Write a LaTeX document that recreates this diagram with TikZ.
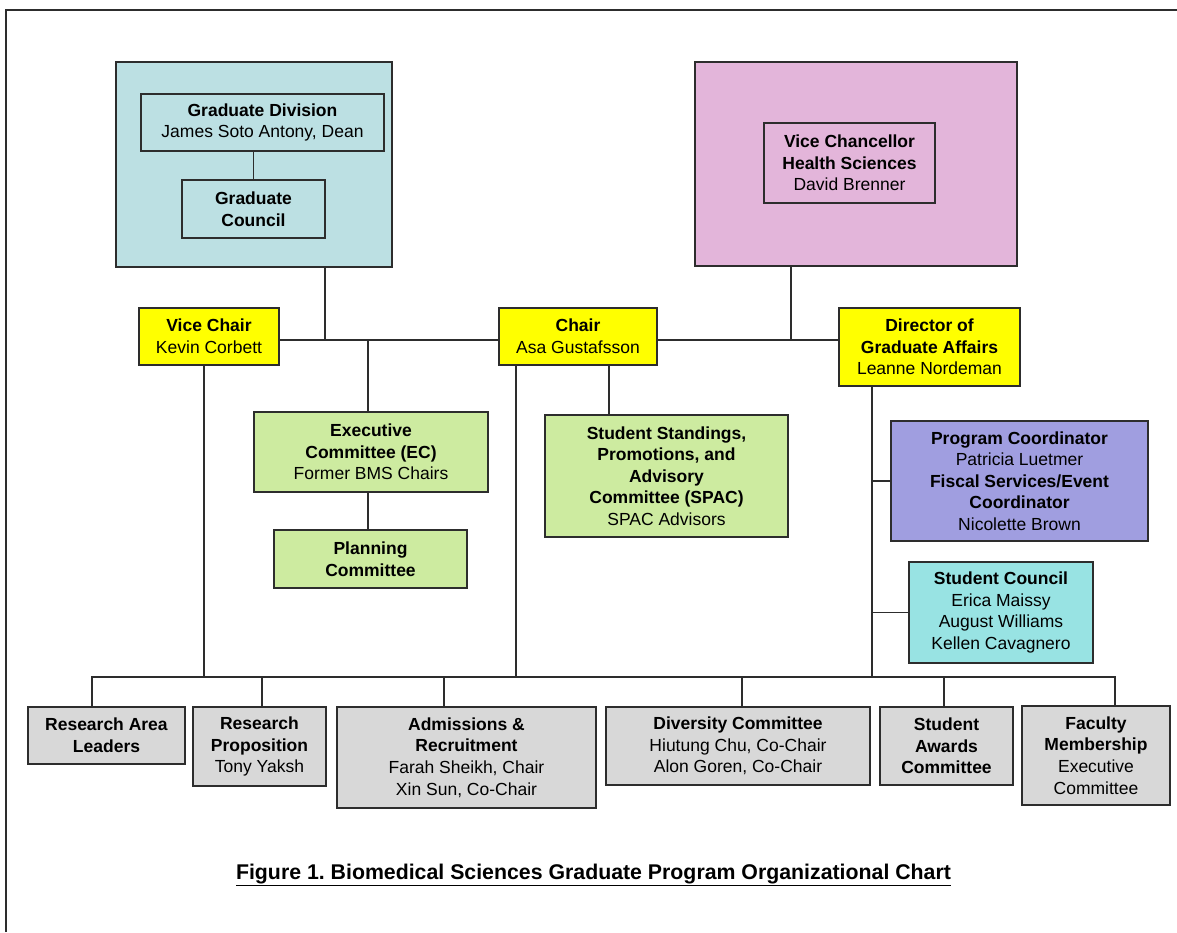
\documentclass[tikz,border=0pt]{standalone}
\usepackage{fontspec}
\setmainfont{Liberation Sans}
\frenchspacing
\definecolor{tealbg}{RGB}{188,224,227}
\definecolor{pinkbg}{RGB}{227,181,218}
\definecolor{yel}{RGB}{255,255,0}
\definecolor{grn}{RGB}{205,235,160}
\definecolor{purp}{RGB}{160,158,224}
\definecolor{cyn}{RGB}{152,227,227}
\definecolor{gry}{RGB}{216,216,216}
\definecolor{edge}{RGB}{45,45,45}
\newcommand{\fs}{\fontsize{17.5}{21.6}\selectfont}
\newcommand{\fcap}{\fontsize{21.3}{25}\selectfont}
\tikzset{
  box/.style={draw=edge, line width=1.3pt, inner sep=0pt, align=center, font=\fs},
  conn/.style={draw=edge, line width=1.3pt},
}
\begin{document}
\begin{tikzpicture}[x=1pt,y=-1pt]
\useasboundingbox (0,0) rectangle (1177,932);
\draw[line width=1.3pt, draw=edge] (6,932) -- (6,10) -- (1177,10);

% upper groups
\node[box, fill=tealbg, minimum width=276pt, minimum height=205pt] (teal) at (254,164.5) {};
\node[box, fill=tealbg, minimum width=243pt, minimum height=57pt] (gd) at (262.5,122.5) {\textbf{Graduate Division}\\James Soto Antony, Dean};
\node[box, fill=tealbg, minimum width=143pt, minimum height=58pt] (gc) at (253.5,209) {\textbf{Graduate}\\\textbf{Council}};
\node[box, fill=pinkbg, minimum width=322pt, minimum height=204pt] (pink) at (856,164) {};
\node[box, fill=pinkbg, minimum width=171pt, minimum height=80pt] (vcs) at (849.5,163) {\textbf{Vice Chancellor}\\\textbf{Health Sciences}\\David Brenner};

% leadership
\node[box, fill=yel, minimum width=140pt, minimum height=57pt] (vchair) at (209,336.5) {\textbf{Vice Chair}\\Kevin Corbett};
\node[box, fill=yel, minimum width=158pt, minimum height=57pt] (chair) at (578,336.5) {\textbf{Chair}\\Asa Gustafsson};
\node[box, fill=yel, minimum width=181pt, minimum height=78pt] (dir) at (929.5,347) {\textbf{Director of}\\\textbf{Graduate Affairs}\\Leanne Nordeman};

% committees
\node[box, fill=grn, minimum width=234pt, minimum height=80pt] (ec) at (371,452) {\textbf{Executive}\\\textbf{Committee (EC)}\\Former BMS Chairs};
\node[box, fill=grn, minimum width=193pt, minimum height=58pt] (plan) at (370.5,559) {\textbf{Planning}\\\textbf{Committee}};
\node[box, fill=grn, minimum width=243pt, minimum height=122pt] (spac) at (666.5,476) {\textbf{Student Standings,}\\\textbf{Promotions, and}\\\textbf{Advisory}\\\textbf{Committee (SPAC)}\\SPAC Advisors};
\node[box, fill=purp, minimum width=257pt, minimum height=120pt] (pc) at (1019.5,481) {\textbf{Program Coordinator}\\Patricia Luetmer\\\textbf{Fiscal Services/Event}\\\textbf{Coordinator}\\Nicolette Brown};
\node[box, fill=cyn, minimum width=184pt, minimum height=101pt] (sc) at (1001,612.5) {\textbf{Student Council}\\Erica Maissy\\August Williams\\Kellen Cavagnero};

% bottom row
\node[box, fill=gry, minimum width=157pt, minimum height=57pt] (ral) at (106.5,735.5) {\textbf{Research Area}\\\textbf{Leaders}};
\node[box, fill=gry, minimum width=133pt, minimum height=79pt] (rp) at (259.5,746.5) {\textbf{Research}\\\textbf{Proposition}\\Tony Yaksh};
\node[box, fill=gry, minimum width=259pt, minimum height=101pt] (adm) at (466.5,757.5) {\textbf{Admissions \&}\\\textbf{Recruitment}\\Farah Sheikh, Chair\\Xin Sun, Co-Chair};
\node[box, fill=gry, minimum width=264pt, minimum height=78pt] (div) at (738,746) {\textbf{Diversity Committee}\\Hiutung Chu, Co-Chair\\Alon Goren, Co-Chair};
\node[box, fill=gry, minimum width=133pt, minimum height=78pt] (sa) at (946.5,746) {\textbf{Student}\\\textbf{Awards}\\\textbf{Committee}};
\node[box, fill=gry, minimum width=148pt, minimum height=99pt] (fac) at (1096,755.5) {\textbf{Faculty}\\\textbf{Membership}\\Executive\\Committee};

% junction coordinates
\coordinate (tj) at (325,340);
\coordinate (pj) at (791,340);
\coordinate (ecx) at (368,340);
\coordinate (vcx) at (204,677);
\coordinate (chx) at (516,677);
\coordinate (spx) at (609,400);
\coordinate (drx) at (872,677);
\coordinate (busl) at (92,677);
\coordinate (busr) at (1115,677);
\coordinate (rpx) at (262,677);
\coordinate (admx) at (444,677);
\coordinate (divx) at (742,677);
\coordinate (sax) at (944,677);

% connectors
\draw[conn] (gd.south -| gc.north) -- (gc.north);
\draw[conn] (teal.south -| tj) -- (tj);
\draw[conn] (pink.south -| pj) -- (pj);
\draw[conn] (vchair.east |- tj) -- (chair.west |- tj);
\draw[conn] (chair.east |- tj) -- (dir.west |- tj);
\draw[conn] (ec.north -| ecx) -- (ecx);
\draw[conn] (ec.south -| ecx) -- (plan.north -| ecx);
\draw[conn] (chair.south -| spx) -- (spac.north -| spx);
\draw[conn] (vchair.south -| vcx) -- (vcx);
\draw[conn] (chair.south -| chx) -- (chx);
\draw[conn] (dir.south -| drx) -- (drx);
\draw[conn] (pc.west -| drx) -- (pc.west);
\draw[conn] (sc.west -| drx) -- (sc.west);
\draw[conn] (ral.north -| busl) -- (busl) -- (busr) -- (fac.north -| busr);
\draw[conn] (rpx) -- (rp.north -| rpx);
\draw[conn] (admx) -- (adm.north -| admx);
\draw[conn] (divx) -- (div.north -| divx);
\draw[conn] (sax) -- (sa.north -| sax);

% caption
\node[font=\fcap\bfseries, anchor=base, inner sep=0pt] (cap) at (593.5,879) {\underline{Figure 1. Biomedical Sciences Graduate Program Organizational Chart}};
\end{tikzpicture}
\end{document}
